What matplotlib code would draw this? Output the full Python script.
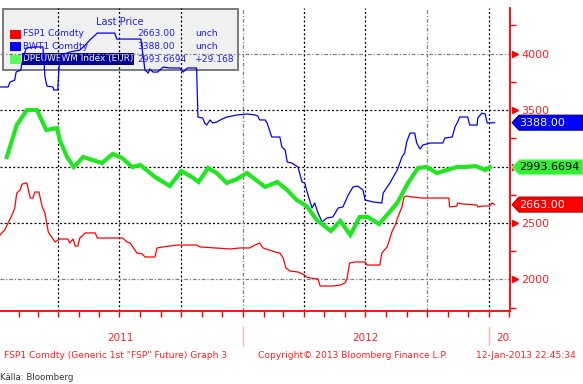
import numpy as np
import matplotlib
matplotlib.use("Agg")
import matplotlib.pyplot as plt
import matplotlib.dates as mdates
from matplotlib.patches import Rectangle, Polygon
from matplotlib.transforms import blended_transform_factory, Bbox, TransformedBbox
from matplotlib.ticker import NullFormatter, FixedLocator

# ---------------- data (day offsets from 2011-01-01, values) ----------------
base_date = np.datetime64("2011-01-01")

blue_days = [3, 15, 18, 25, 27, 34, 36, 39, 42, 55,
             67, 70, 73, 82, 83, 89, 91, 94, 107, 122,
             130, 137, 145, 148, 174, 177, 213, 216, 219, 224,
             226, 231, 238, 246, 256, 271, 276, 282, 296, 298,
             305, 308, 311, 316, 320, 326, 334, 341, 349, 356,
             371, 383, 387, 390, 398, 401, 408, 420, 423, 428,
             431, 438, 447, 453, 457, 462, 468, 472, 477, 483,
             490, 499, 507, 514, 522, 529, 536, 544, 547, 559,
             572, 574, 580, 584, 595, 602, 606, 609, 614, 621,
             624, 629, 633, 644, 663, 666, 677, 681, 685, 688,
             700, 703, 714, 715, 721, 726, 729, 740]
blue_vals = [3704, 3704, 3748, 3765, 3836, 3854, 3925, 3987, 4049, 4058,
             4058, 3792, 3712, 3704, 3677, 3677, 3880, 3987, 4013, 4031,
             4075, 4120, 4164, 4181, 4181, 4128, 4128, 3987, 3854, 3827,
             3863, 3836, 3836, 3880, 3872, 3872, 3836, 3872, 3872, 3438,
             3429, 3385, 3367, 3412, 3385, 3394, 3420, 3438, 3447, 3456,
             3465, 3456, 3447, 3412, 3412, 3385, 3261, 3261, 3173, 3146,
             3040, 3031, 2996, 2863, 2854, 2748, 2633, 2677, 2588, 2509,
             2544, 2553, 2633, 2642, 2748, 2819, 2827, 2792, 2704, 2686,
             2677, 2765, 2819, 2854, 2969, 3084, 3119, 3217, 3296, 3296,
             3208, 3155, 3190, 3208, 3208, 3252, 3261, 3350, 3394, 3438,
             3438, 3367, 3367, 3429, 3473, 3465, 3385, 3388]

red_days = [3, 10, 15, 21, 25, 28, 33, 36, 43, 48,
            52, 55, 61, 66, 70, 75, 80, 85, 92, 104,
            107, 112, 115, 119, 122, 130, 145, 148, 186, 192,
            197, 200, 207, 215, 219, 234, 237, 246, 267, 296,
            301, 346, 361, 375, 383, 390, 395, 413, 420, 425,
            429, 435, 447, 454, 460, 465, 477, 480, 499, 510,
            517, 520, 524, 532, 547, 550, 569, 572, 580, 587,
            592, 596, 602, 605, 609, 617, 633, 672, 673, 684,
            685, 693, 714, 715, 723, 733, 736, 740]
red_vals = [2394, 2438, 2500, 2571, 2633, 2765, 2792, 2845, 2854, 2721,
            2721, 2774, 2774, 2642, 2588, 2420, 2376, 2332, 2358, 2358,
            2323, 2358, 2296, 2296, 2367, 2412, 2412, 2367, 2367, 2332,
            2323, 2296, 2234, 2226, 2199, 2199, 2279, 2288, 2305, 2305,
            2288, 2270, 2279, 2279, 2305, 2323, 2279, 2243, 2234, 2190,
            2102, 2075, 2066, 2049, 2022, 2013, 2004, 1942, 1942, 1951,
            1969, 2004, 2146, 2155, 2155, 2128, 2128, 2234, 2288, 2420,
            2482, 2553, 2642, 2730, 2739, 2730, 2721, 2721, 2642, 2650,
            2677, 2668, 2659, 2642, 2650, 2650, 2677, 2663]

green_days = [13, 28, 43, 58, 72, 88, 92, 103, 113, 127,
              155, 171, 185, 200, 212, 234, 256, 273, 289, 299,
              313, 326, 341, 356, 371, 398, 416, 431, 445, 460,
              475, 496, 510, 525, 539, 551, 568, 595, 611, 626,
              639, 654, 684, 696, 712, 726, 733]
green_vals = [3084, 3367, 3500, 3500, 3323, 3341, 3235, 3084, 2996, 3084,
              3031, 3111, 3075, 2996, 3013, 2907, 2827, 2960, 2907, 2863,
              2987, 2942, 2854, 2889, 2942, 2819, 2863, 2792, 2704, 2650,
              2527, 2429, 2518, 2394, 2553, 2553, 2491, 2677, 2854, 2987,
              2996, 2942, 2996, 2996, 3004, 2969, 2993.6694]

series_names = ["FSP1 Comdty", "BWT1 Comdty", "DPEUWEWM Index (EUR)"]
last_prices = ["2663.00", "3388.00", "2993.6694"]
changes = ["unch", "unch", "+29.168"]
year_labels = ["2011", "2012", "2013"]
ytick_vals = [2000, 2500, 3000, 3500, 4000]
ytick_labels = ["2000", "2500", "", "3500", "4000"]  # 3000 hidden behind the green tag
ytick_minor = [1750, 2250, 2750, 3250, 3750, 4250]

footer_left = 'FSP1 Comdty (Generic 1st "FSP" Future) Graph 3'
footer_mid = "Copyright\u00a9 2013 Bloomberg Finance L.P."
footer_right = "12-Jan-2013 22:45:34"
source_text = "Källa: Bloomberg"


def to_dates(days):
    return base_date + np.array(days).astype("timedelta64[D]")


RED = "#ff0000"
BLUE = "#0000ff"
GREEN = "#22e622"
TXT_RED = "#ff2020"
TXT_BLUE = "#2020ee"

W, H = 583, 384
fig = plt.figure(figsize=(W / 100, H / 100), dpi=100)
fig.patch.set_facecolor("white")


def fx(px):
    return px / W


def fy(py):
    return 1 - py / H


ax_left, ax_right, ax_top, ax_bot = 0, 510, 8, 311
ax = fig.add_axes([fx(ax_left), fy(ax_bot), fx(ax_right - ax_left), (ax_bot - ax_top) / H])
ax.set_facecolor("white")

ymin, ymax = 1721, 4403
ax.set_ylim(ymin, ymax)
xmin = base_date + np.timedelta64(3, "D")
xmax = base_date + np.timedelta64(763, "D")
ax.set_xlim(xmin, xmax)

# spines
for s in ["left", "top"]:
    ax.spines[s].set_visible(False)
ax.spines["right"].set_color(RED)
ax.spines["right"].set_linewidth(1.3)
ax.spines["bottom"].set_color(RED)
ax.spines["bottom"].set_linewidth(1.3)

# y axis on the right
ax.yaxis.tick_right()
ax.yaxis.set_major_locator(FixedLocator(ytick_vals))
ax.yaxis.set_minor_locator(FixedLocator(ytick_minor))
ax.tick_params(axis="y", which="major", length=0, pad=8, labelsize=8, labelcolor=TXT_RED)
ax.tick_params(axis="y", which="minor", length=4, width=1, color=RED, direction="out")
ax.set_yticklabels(ytick_labels)

# x axis monthly ticks
ax.xaxis.set_major_locator(mdates.MonthLocator())
ax.xaxis.set_major_formatter(NullFormatter())
ax.tick_params(axis="x", which="major", length=4, width=1, color=RED, direction="out", labelbottom=False)

# arrow markers at major y ticks
tr_ay = blended_transform_factory(ax.transAxes, ax.transData)
ax.plot([1.0105] * len(ytick_vals), ytick_vals, linestyle="none", marker=">", markersize=5,
        color=RED, transform=tr_ay, clip_on=False, zorder=4)

# gridlines
grid_black = dict(color="black", lw=0.9, linestyle=(0, (1.6, 1.8)), zorder=1)
grid_gray = dict(color="#808080", lw=0.9, linestyle=(0, (3, 1.5, 1, 1.5)), zorder=1)
for v in ytick_vals:
    if v in (2000, 4000):
        ax.axhline(v, **grid_gray)
    else:
        ax.axhline(v, **grid_black)
quarters = ["2011-04-01", "2011-07-01", "2011-10-01", "2012-01-01",
            "2012-04-01", "2012-07-01", "2012-10-01", "2013-01-01"]
for q in quarters:
    d = np.datetime64(q)
    if q in ("2012-01-01", "2012-10-01"):
        ax.axvline(d, **grid_gray)
    else:
        ax.axvline(d, **grid_black)

# legend box (drawn beneath lines)
lg = Rectangle((fx(3), fy(70)), fx(235), 61 / H, transform=fig.transFigure,
               facecolor="#f0f0f0", edgecolor="#7a7a7a", lw=1.4, zorder=0.6)
ax.add_patch(lg)
lt = fig.transFigure
ax.text(fx(120), fy(22), "Last Price", transform=lt, ha="center", va="center",
        fontsize=7, color=TXT_BLUE, zorder=0.7)
sq_colors = [RED, BLUE, "#55ff55"]
row_y = [34, 46.5, 59]
for i in range(3):
    ax.add_patch(Rectangle((fx(10), fy(row_y[i] + 4.5)), fx(11), 9 / H, transform=lt,
                           facecolor=sq_colors[i], edgecolor="none", zorder=0.7))
    if i == 2:
        ax.text(fx(23), fy(row_y[i]), series_names[i], transform=lt, ha="left", va="center",
                fontsize=6.4, color="white", zorder=0.7,
                bbox=dict(boxstyle="square,pad=0.12", fc="#00009c", ec="none"))
    else:
        ax.text(fx(23), fy(row_y[i]), series_names[i], transform=lt, ha="left", va="center",
                fontsize=6.6, color=TXT_BLUE, zorder=0.7)
    ax.text(fx(137), fy(row_y[i]), last_prices[i], transform=lt, ha="left", va="center",
            fontsize=6.6, color=TXT_BLUE, zorder=0.7)
    ax.text(fx(195), fy(row_y[i]), changes[i], transform=lt, ha="left", va="center",
            fontsize=6.6, color=TXT_BLUE, zorder=0.7)

# data lines
ax.plot(to_dates(red_days), red_vals, color=RED, lw=0.9, zorder=3)
ax.plot(to_dates(blue_days), blue_vals, color=BLUE, lw=0.9, zorder=3)
ax.plot(to_dates(green_days), green_vals, color=GREEN, lw=3.0, zorder=3.5,
        solid_joinstyle="miter")

# value tags on the right
px_per_unit = (ax_bot - ax_top) / (ymax - ymin)
half_h = 7.5 / px_per_unit
tr_tag = blended_transform_factory(fig.transFigure, ax.transData)
tag_specs = [
    (blue_vals[-1], last_prices[1], BLUE, "#000080", "white"),
    (green_vals[-1], last_prices[2], "#33ee33", "#88ff88", "black"),
    (red_vals[-1], last_prices[0], RED, "#aa0000", "white"),
]
for val, label, fc, ec, tc in tag_specs:
    verts = [(fx(512), val), (fx(519), val + half_h), (1.0, val + half_h),
             (1.0, val - half_h), (fx(519), val - half_h)]
    ax.add_patch(Polygon(verts, closed=True, transform=tr_tag, facecolor=fc, edgecolor=ec,
                         lw=0.8, clip_on=False, zorder=6))
    ax.text(fx(519), val, label, transform=tr_tag, ha="left", va="center", fontsize=8,
            color=tc, clip_on=False, zorder=7)

# year labels & separators below axis
tr_xa = blended_transform_factory(ax.transData, ax.transAxes)
y_lab = -(338 - ax_bot) / (ax_bot - ax_top)
y_sep0 = -(327 - ax_bot) / (ax_bot - ax_top)
y_sep1 = -(345 - ax_bot) / (ax_bot - ax_top)
year_pos = [np.datetime64("2011-07-03"), np.datetime64("2012-07-01"), np.datetime64("2013-01-13")]
for lab, pos in zip(year_labels, year_pos):
    if lab == "2013":
        t = ax.text(pos, y_lab, lab, transform=tr_xa, ha="left", va="center", fontsize=7.5,
                    color=TXT_RED)
        t.set_clip_box(TransformedBbox(Bbox([[0, 0], [fx(511), 1]]), fig.transFigure))
        t.set_clip_on(True)
    else:
        ax.text(pos, y_lab, lab, transform=tr_xa, ha="center", va="center", fontsize=7.5,
                color=TXT_RED, clip_on=False)
for sep in ["2012-01-01", "2013-01-01"]:
    d = np.datetime64(sep)
    ax.plot([d, d], [y_sep0, y_sep1], transform=tr_xa, color="#ffb0b0", lw=1, clip_on=False)

# footer
fig.text(fx(4), fy(356), footer_left, ha="left", va="center", fontsize=6.6, color=TXT_RED)
fig.text(fx(258), fy(356), footer_mid, ha="left", va="center", fontsize=6.6, color=TXT_RED)
fig.text(fx(576), fy(356), footer_right, ha="right", va="center", fontsize=6.6, color=TXT_RED)
fig.text(fx(0), fy(377), source_text, ha="left", va="center", fontsize=6.2, color="#333333")

fig.savefig("out.png", dpi=100, facecolor="white")
